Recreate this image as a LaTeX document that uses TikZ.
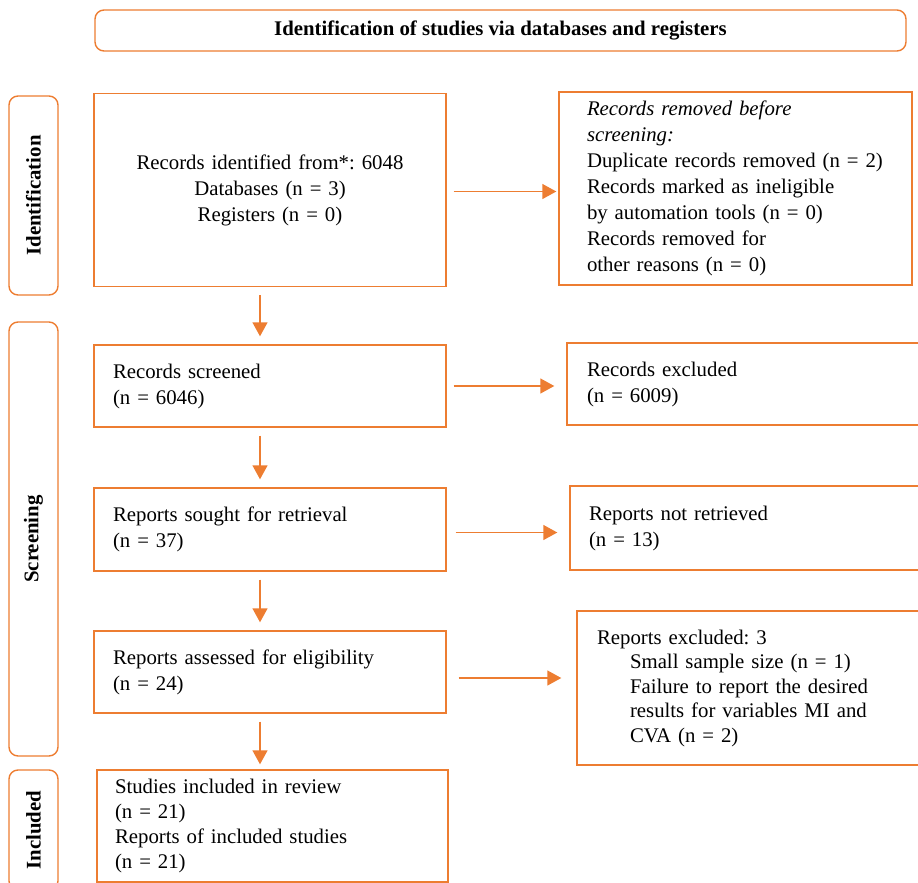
\documentclass[tikz,border=0pt]{standalone}
\usepackage{fontspec}
\setmainfont{Liberation Serif}
\usetikzlibrary{arrows.meta}
\definecolor{prismaorange}{HTML}{ED7D31}
\tikzset{
  box/.style={draw=prismaorange, line width=1.4pt, align=left, inner xsep=19pt,
    inner ysep=0pt, font=\fontsize{20.8}{26}\selectfont\frenchspacing},
  phase/.style={draw=prismaorange, line width=1.4pt, rounded corners=9pt,
    font=\fontsize{20.8}{26}\selectfont\bfseries},
  arr/.style={draw=prismaorange, line width=1.4pt, -{Triangle[length=14pt,width=15pt]}},
}
\begin{document}
\begin{tikzpicture}[x=1pt,y=-1pt]
  \clip (0,0) rectangle (918,883);
  \node[phase, minimum width=811pt, minimum height=41pt] (head) at (500.5,30.5)
    {Identification of studies via databases and registers};
  % phases on the left
  \node[phase, rotate=90, minimum width=199pt, minimum height=49pt] (phid) at (33.5,195.5) {Identification};
  \node[phase, rotate=90, minimum width=434pt, minimum height=49pt] (phscr) at (33.5,539) {Screening};
  \node[phase, rotate=90, minimum width=120pt, minimum height=49pt] (phinc) at (33.5,830) {Included};
  % main column
  \node[box, align=center, text width=314pt, minimum height=193pt] (id) at (270,190)
    {Records identified from*: 6048\\Databases (n = 3)\\Registers (n = 0)};
  \node[box, text width=314pt, minimum height=82pt] (scr) at (270,386)
    {Records screened\\(n = 6046)};
  \node[box, text width=314pt, minimum height=83pt] (sought) at (270,529.5)
    {Reports sought for retrieval\\(n = 37)};
  \node[box, text width=314pt, minimum height=82pt] (assess) at (270,672)
    {Reports assessed for eligibility\\(n = 24)};
  \node[box, inner xsep=18pt, text width=315pt, minimum height=112pt,
    font=\fontsize{20.8}{24.7}\selectfont\frenchspacing] (incl) at (272.5,826)
    {Studies included in review\\(n = 21)\\Reports of included studies\\(n = 21)};
  % side column
  \node[box, inner xsep=28pt, text width=297pt, minimum height=193pt] (rem) at (735.5,188.5)
    {\textit{Records removed before}\\\textit{screening:}\\Duplicate records removed (n = 2)\\
     Records marked as ineligible\\by automation tools (n = 0)\\Records removed for\\other reasons (n = 0)};
  \node[box, inner xsep=20pt, text width=333pt, minimum height=82pt] (exc) at (753.5,384)
    {Records excluded\\(n = 6009)};
  \node[box, text width=332pt, minimum height=84pt] (notret) at (755,528)
    {Reports not retrieved\\(n = 13)};
  \node[box, inner xsep=20pt, text width=323pt, minimum height=154pt,
    font=\fontsize{20.8}{24.5}\selectfont\frenchspacing] (repexc) at (758.5,688)
    {Reports excluded: 3\\\hspace*{33pt}Small sample size (n = 1)\\
     \hspace*{33pt}Failure to report the desired\\\hspace*{33pt}results for variables MI and\\
     \hspace*{33pt}CVA (n = 2)\\[6pt]};
  % arrows down
  \draw[arr, shorten <=8pt, shorten >=8pt] ([xshift=-10pt]id.south) -- ([xshift=-10pt]scr.north);
  \draw[arr, shorten <=8pt, shorten >=8pt] ([xshift=-10pt]scr.south) -- ([xshift=-10pt]sought.north);
  \draw[arr, shorten <=8pt, shorten >=8pt] ([xshift=-10pt]sought.south) -- ([xshift=-10pt]assess.north);
  \draw[arr, shorten <=8pt, shorten >=5pt] ([xshift=-10pt]assess.south) -- ([xshift=-10pt]assess.south |- incl.north);
  % arrows across
  \draw[arr, shorten <=7pt, shorten >=2pt] ([yshift=-1.5pt]id.east) -- ([yshift=-1.5pt]id.east -| rem.west);
  \draw[arr, shorten <=7pt, shorten >=12pt] (scr.east) -- (scr.east -| exc.west);
  \draw[arr, shorten <=9pt, shorten >=12pt] ([yshift=-3pt]sought.east) -- ([yshift=-3pt]sought.east -| notret.west);
  \draw[arr, shorten <=12pt, shorten >=15pt] ([yshift=-6pt]assess.east) -- ([yshift=-6pt]assess.east -| repexc.west);
\end{tikzpicture}
\end{document}
